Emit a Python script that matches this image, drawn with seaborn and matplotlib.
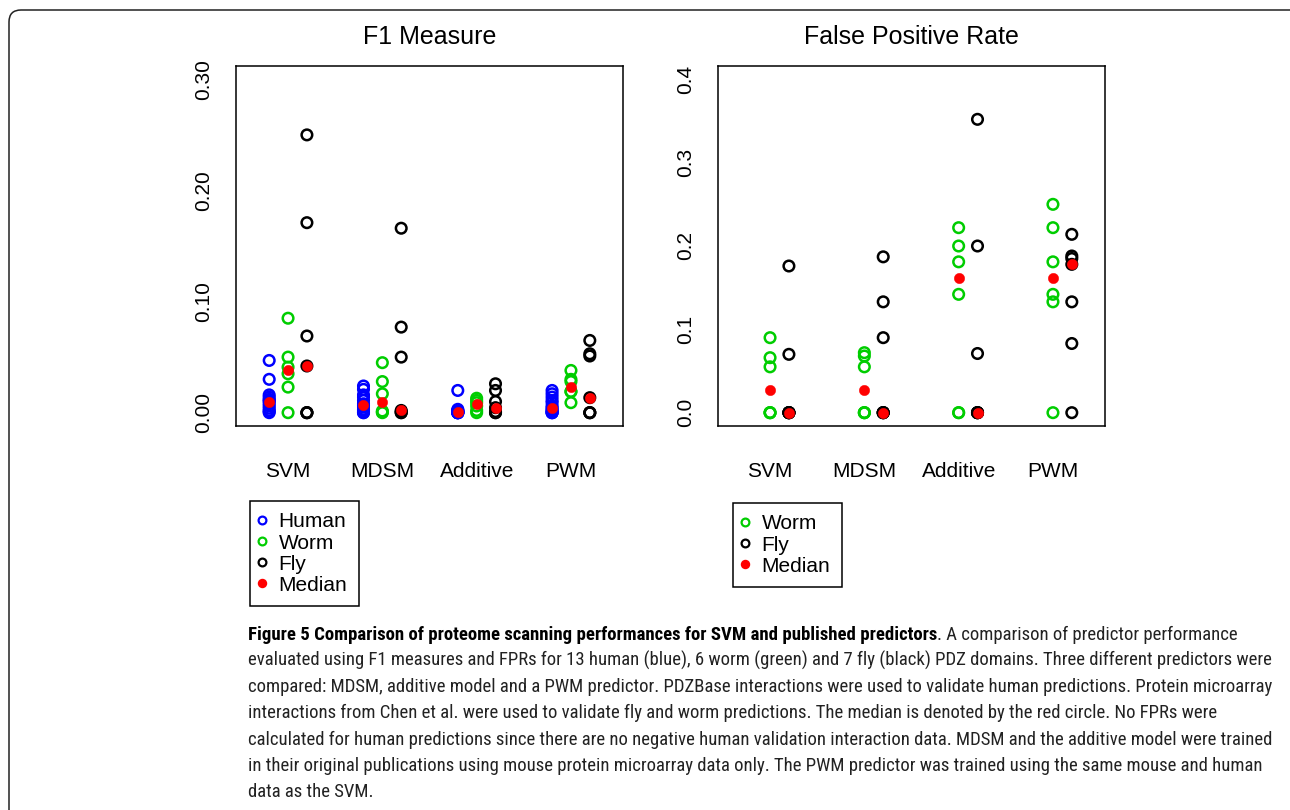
import numpy as np
import pandas as pd
import matplotlib
matplotlib.use("Agg")
import matplotlib.pyplot as plt
import seaborn as sns
from matplotlib.lines import Line2D
from matplotlib.patches import FancyBboxPatch
from matplotlib.transforms import IdentityTransform
from matplotlib import font_manager as fm

# ---------------- data ----------------
methods = ["SVM", "MDSM", "Additive", "PWM"]

f1_human = [
    [0.047, 0.030, 0.016, 0.014, 0.012, 0.011, 0.010, 0.008, 0.006, 0.004, 0.002, 0.001, 0.0],
    [0.024, 0.021, 0.016, 0.014, 0.011, 0.008, 0.0066, 0.005, 0.003, 0.002, 0.001, 0.0, 0.0],
    [0.020, 0.003, 0.002, 0.002, 0.001, 0.001, 0.001, 0.0, 0.0, 0.0, 0.0, 0.0, 0.0],
    [0.020, 0.017, 0.014, 0.011, 0.009, 0.006, 0.0045, 0.003, 0.002, 0.001, 0.0, 0.0, 0.0],
]
f1_worm = [
    [0.085, 0.050, 0.041, 0.035, 0.023, 0.0],
    [0.045, 0.028, 0.017, 0.0015, 0.0005, 0.0],
    [0.013, 0.011, 0.009, 0.006, 0.002, 0.0],
    [0.038, 0.030, 0.028, 0.019, 0.019, 0.009],
]
f1_fly = [
    [0.250, 0.171, 0.069, 0.042, 0.0, 0.0, 0.0],
    [0.166, 0.077, 0.050, 0.002, 0.001, 0.0, 0.0],
    [0.026, 0.020, 0.010, 0.0045, 0.001, 0.0, 0.0],
    [0.065, 0.053, 0.051, 0.0135, 0.0, 0.0, 0.0],
]
fpr_worm = [
    [0.090, 0.066, 0.055, 0.0, 0.0, 0.0],
    [0.072, 0.068, 0.055, 0.0, 0.0, 0.0],
    [0.222, 0.200, 0.181, 0.142, 0.0, 0.0],
    [0.250, 0.222, 0.181, 0.142, 0.133, 0.0],
]
fpr_fly = [
    [0.176, 0.070, 0.0, 0.0, 0.0, 0.0, 0.0],
    [0.187, 0.133, 0.090, 0.0, 0.0, 0.0, 0.0],
    [0.352, 0.200, 0.071, 0.0, 0.0, 0.0, 0.0],
    [0.214, 0.188, 0.185, 0.178, 0.133, 0.083, 0.0],
]

f1_yticks = [0.00, 0.05, 0.10, 0.15, 0.20, 0.25, 0.30]
f1_ylabels = ["0.00", "", "0.10", "", "0.20", "", "0.30"]
fpr_yticks = [0.0, 0.1, 0.2, 0.3, 0.4]
fpr_ylabels = ["0.0", "0.1", "0.2", "0.3", "0.4"]

caption_bold = "Figure 5 Comparison of proteome scanning performances for SVM and published predictors"
caption_lines = [
    ". A comparison of predictor performance",
    "evaluated using F1 measures and FPRs for 13 human (blue), 6 worm (green) and 7 fly (black) PDZ domains. Three different predictors were",
    "compared: MDSM, additive model and a PWM predictor. PDZBase interactions were used to validate human predictions. Protein microarray",
    "interactions from Chen et al. were used to validate fly and worm predictions. The median is denoted by the red circle. No FPRs were",
    "calculated for human predictions since there are no negative human validation interaction data. MDSM and the additive model were trained",
    "in their original publications using mouse protein microarray data only. The PWM predictor was trained using the same mouse and human",
    "data as the SVM.",
]

# ---------------- style ----------------
sns.set_style("white")
plt.rcParams["font.family"] = ["Liberation Sans", "DejaVu Sans"]
plt.rcParams["text.color"] = "black"
plt.rcParams["axes.labelcolor"] = "black"
plt.rcParams["xtick.color"] = "black"
plt.rcParams["ytick.color"] = "black"

def pick_font(cands):
    for c in cands:
        try:
            fm.findfont(fm.FontProperties(family=c), fallback_to_default=False)
            return c
        except Exception:
            pass
    return "Liberation Sans"

cap_font = pick_font(["Liberation Sans Narrow", "DejaVu Sans Condensed", "Roboto Condensed", "Liberation Sans"])

colors = {"Human": "#0000FF", "Worm": "#00CD00", "Fly": "#000000"}
median_color = "#FF0000"

def long_df(series, offsets):
    rows = []
    for sp, vals in series.items():
        for mi, m in enumerate(methods):
            for v in vals[mi]:
                rows.append({"method": m, "species": sp, "value": v, "x": mi + 1 + offsets[sp]})
    return pd.DataFrame(rows)

def median_df(series, offsets):
    rows = []
    for sp, vals in series.items():
        for mi, m in enumerate(methods):
            rows.append({"method": m, "species": sp, "value": float(np.median(vals[mi])),
                         "x": mi + 1 + offsets[sp]})
    return pd.DataFrame(rows)

fig = plt.figure(figsize=(12.9, 8.1), dpi=100)
W, H = 1290, 810

def add_axes_px(x0, y0, x1, y1):
    return fig.add_axes([x0 / W, 1 - y1 / H, (x1 - x0) / W, (y1 - y0) / H])

ax1 = add_axes_px(236, 66, 623, 426)
ax2 = add_axes_px(718, 66, 1105, 426)

panels = [
    (ax1, {"Human": f1_human, "Worm": f1_worm, "Fly": f1_fly},
     {"Human": -0.2, "Worm": 0.0, "Fly": 0.2}, "F1 Measure",
     (-0.012, 0.312), f1_yticks, f1_ylabels),
    (ax2, {"Worm": fpr_worm, "Fly": fpr_fly},
     {"Worm": 0.0, "Fly": 0.2}, "False Positive Rate",
     (-0.016, 0.416), fpr_yticks, fpr_ylabels),
]

for ax, series, offs, title, ylim, yt, yl in panels:
    df = long_df(series, offs)
    for sp in series:
        sns.scatterplot(data=df[df["species"] == sp], x="x", y="value", ax=ax,
                        marker="o", s=58, facecolor="none", edgecolor=colors[sp],
                        linewidth=1.8, legend=False, zorder=3)
    md = median_df(series, offs)
    sns.scatterplot(data=md, x="x", y="value", ax=ax, marker="o", s=56,
                    color=median_color, edgecolor=median_color, linewidth=0.3,
                    legend=False, zorder=4)
    ax.set_xlim(0.448, 4.552)
    ax.set_ylim(*ylim)
    ax.set_xticks(range(1, 5))
    ax.set_xticklabels(methods, fontsize=15)
    ax.set_yticks(yt)
    ax.set_yticklabels(yl, fontsize=15, rotation=90, va="center")
    ax.tick_params(axis="x", direction="out", length=7.2, width=1.1, pad=18.5, colors="black")
    ax.tick_params(axis="y", direction="out", length=7.2, width=1.1, pad=9.0, colors="black")
    ax.set_xlabel("")
    ax.set_ylabel("")
    for s in ax.spines.values():
        s.set_visible(True)
        s.set_color("black")
        s.set_linewidth(1.1)
    ax.set_title(title, fontsize=18, pad=16, color="black")
    ax.grid(False)

# legends
def legend_handles(species):
    hs = []
    for sp in species:
        hs.append(Line2D([], [], linestyle="none", marker="o", markersize=5.6,
                         markerfacecolor="none", markeredgecolor=colors[sp],
                         markeredgewidth=1.6, label=sp))
    hs.append(Line2D([], [], linestyle="none", marker="o", markersize=6.8,
                     markerfacecolor=median_color, markeredgecolor=median_color,
                     markeredgewidth=0, label="Median"))
    return hs

for ax, species, (lx, ly) in [(ax1, ["Human", "Worm", "Fly"], (250, 501)),
                              (ax2, ["Worm", "Fly"], (733, 503))]:
    leg = ax.legend(handles=legend_handles(species), loc="upper left",
                    bbox_to_anchor=(lx / W, 1 - ly / H), bbox_transform=fig.transFigure,
                    borderaxespad=0, fontsize=15, frameon=True, fancybox=False,
                    framealpha=1, edgecolor="black", borderpad=0.55,
                    labelspacing=0.1, handlelength=0.02, handletextpad=0.8)
    leg.get_frame().set_linewidth(1.1)
    for t in leg.get_texts():
        t.set_color("black")

# outer rounded frame (display pixel coords)
frame = FancyBboxPatch((9, -20), 1320, 820, boxstyle="round,pad=0,rounding_size=12",
                       transform=IdentityTransform(), facecolor="none",
                       edgecolor="#222222", linewidth=1.1, clip_on=False)
fig.patches.append(frame)

# caption
x0_cap = 248
target_w = 1030
fig.canvas.draw()
renderer = fig.canvas.get_renderer()
probe = fig.text(0, 0, caption_lines[4], fontsize=14, family=[cap_font, "DejaVu Sans"])
wprobe = probe.get_window_extent(renderer).width
probe.remove()
cap_size = 14 * target_w / wprobe

baselines = [640, 666, 692, 718, 745, 771, 797]
tb = fig.text(x0_cap / W, 1 - baselines[0] / H, caption_bold, fontsize=cap_size,
              fontweight="bold", family=[cap_font, "DejaVu Sans"], color="black", va="baseline")
fig.canvas.draw()
bx = tb.get_window_extent(renderer).x1
fig.text(bx / W, 1 - baselines[0] / H, caption_lines[0], fontsize=cap_size,
         family=[cap_font, "DejaVu Sans"], color="#222222", va="baseline")
for i, line in enumerate(caption_lines[1:], start=1):
    fig.text(x0_cap / W, 1 - baselines[i] / H, line, fontsize=cap_size,
             family=[cap_font, "DejaVu Sans"], color="#222222", va="baseline")

fig.savefig("out.png", dpi=100)
